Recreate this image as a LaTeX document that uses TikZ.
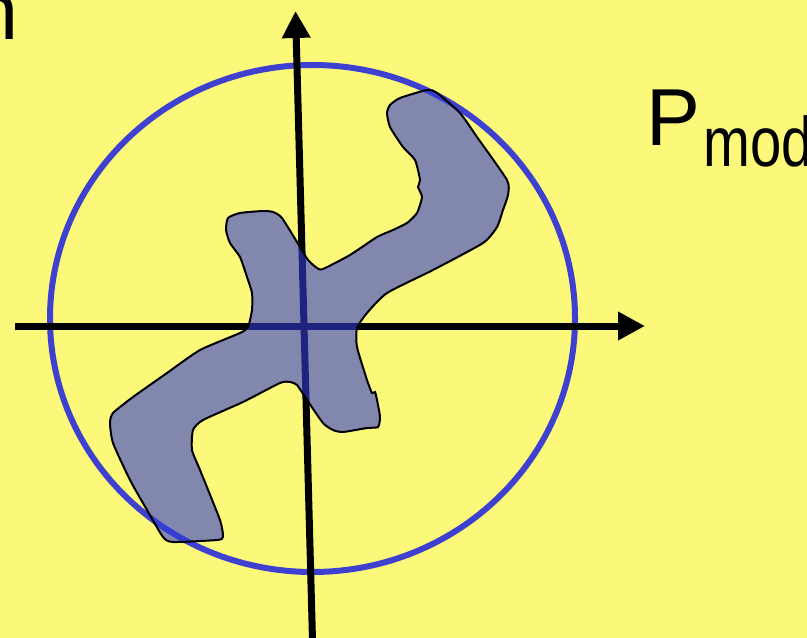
\documentclass[tikz,border=0pt]{standalone}
\usepackage{fontspec}
\setmainfont{Liberation Sans}
\usetikzlibrary{arrows.meta}
\definecolor{SlideYellow}{RGB}{252,249,122}
\definecolor{RingBlue}{RGB}{62,64,208}
\definecolor{BlobBlue}{RGB}{50,60,210}
\tikzset{
  axis/.style={line width=0.14cm,black,-{Triangle[length=0.54cm,width=0.54cm]}},
  ring/.style={draw=RingBlue,line width=0.12cm},
  blob/.style={draw=black,line width=0.04cm,fill=BlobBlue,fill opacity=0.6,
    draw opacity=1},
  bigtext/.style={inner sep=0,font=\fontsize{46}{46}\selectfont}
}

\begin{document}
\begin{tikzpicture}[x=0.02cm,y=-0.02cm]
      \fill[SlideYellow] (0,0) rectangle (807,638);
      \useasboundingbox (0,0) rectangle (807,638);
      \node[bigtext,anchor=base east] (cut) at (18.5,40) {n};
      \node[bigtext,anchor=base west] (pmod) at (646,146)
        {P\hspace{0.06cm}\raisebox{-0.42cm}{\scalebox{0.8}[1]{\fontsize{40}{40}\selectfont mod}}};
      \draw[ring] (312.5,318.5) ellipse [x radius=262.5,y radius=253.5];
      \draw[axis] (15,326) -- (645,326);
      \draw[axis] (312.5,640) -- (295.5,11);
      % the rotated object
      \draw[blob] plot[smooth cycle,tension=0.35] coordinates {
        (228,218) (240,213) (263,211) (273,212) (282,218) (300,247) (308,260)
        (317,268) (323,269) (350,255) (377,237) (393,230) (407,223) (417,213)
        (422,197) (418,187) (420,180) (415,160) (403,147) (390,127) (387,113)
        (390,105) (400,98) (427,90) (437,93) (460,113) (477,137) (507,180)
        (508,195) (503,210) (497,227) (483,243) (433,270) (387,293) (367,313)
        (357,328) (357,347) (367,380) (372,393) (375,392) (377,400) (380,417)
        (378,427) (367,428) (343,432) (333,430) (323,423) (307,400) (297,385)
        (290,382) (280,383) (243,402) (203,420) (193,430) (192,450) (200,470)
        (220,520) (223,537) (217,540) (173,542) (163,537) (147,510) (130,480)
        (113,443) (110,423) (113,413) (133,397) (167,373) (200,350) (240,333)
        (248,327) (252,310) (252,293) (247,277) (240,257) (230,243) (226,230)};
    \end{tikzpicture}
\end{document}
